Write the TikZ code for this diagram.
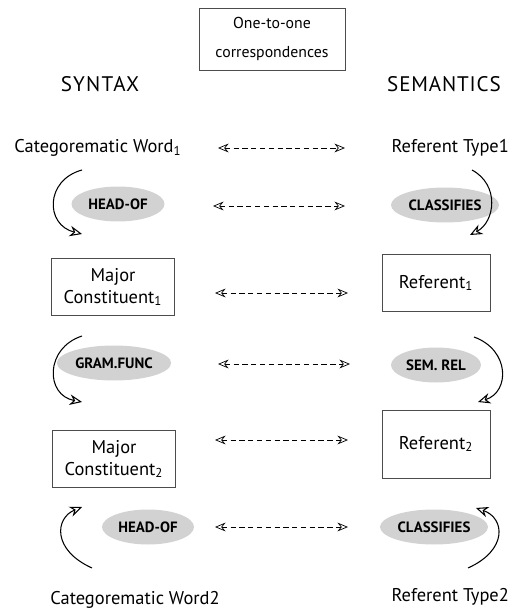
\documentclass[tikz,border=0pt]{standalone}
\usepackage{fontspec}
\setmainfont{PT Sans}
\usetikzlibrary{arrows.meta,shapes.geometric}

\begin{document}
\begin{tikzpicture}[x=0.02cm, y=-0.02cm, every node/.style={font=\fontsize{10.5}{12.5}\selectfont}]
\tikzset{blob/.style={ellipse, fill=gray!35, inner sep=1pt, minimum height=0.7cm, font=\fontsize{8.5}{10}\selectfont\bfseries}}
\tikzset{unit/.style={draw=black!70, thin, align=center, minimum height=1.15cm}}
\tikzset{corr/.style={densely dashed, thin, {Stealth[open,length=6pt,width=5pt]}-{Stealth[open,length=6pt,width=5pt]}}}
\tikzset{link/.style={semithick, -{Stealth[open,length=7pt,width=6pt]}}}
\useasboundingbox (0,0) rectangle (511,615);
% headings
\node[draw=black!70, thin, align=center, minimum width=2.92cm, minimum height=1.24cm, font=\fontsize{9}{17}\selectfont] (one) at (272,39) {One-to-one\\correspondences};
\node[font=\fontsize{12}{14}\selectfont\addfontfeature{LetterSpace=6}] (syn) at (100,84) {SYNTAX};
\node[font=\fontsize{12}{14}\selectfont\addfontfeature{LetterSpace=4}] (sem) at (444,84) {SEMANTICS};
% syntax column
\node (cw1) at (98,148) {Categorematic Word\textsubscript{1}};
\node[blob, minimum width=1.86cm] (hd1) at (118,204) {HEAD-OF};
\node[unit, minimum width=2.46cm] (mc1) at (113,287) {Major\\Constituent\textsubscript{1}};
\node[blob, minimum width=2.16cm] (gf) at (114,363) {GRAM.FUNC};
\node[unit, minimum width=2.46cm] (mc2) at (114,459) {Major\\Constituent\textsubscript{2}};
\node[blob, minimum width=1.84cm] (hd2) at (148,527) {HEAD-OF};
\node (cw2) at (135,600) {Categorematic Word2};
% semantics column
\node[anchor=east, inner xsep=1pt] (rt1) at (511,148) {Referent Type1};
\node[blob, minimum width=1.8cm] (cl1) at (445,205) {CLASSIFIES};
\node[unit, minimum width=2.16cm] (rf1) at (436,283) {Referent\textsubscript{1}};
\node[blob, minimum width=1.8cm] (sr) at (436,365) {SEM. REL};
\node[unit, minimum width=2.16cm, minimum height=1.36cm] (rf2) at (436,444) {Referent\textsubscript{2}};
\node[blob, minimum width=1.9cm] (cl2) at (434,527) {CLASSIFIES};
\node[anchor=east, inner xsep=1pt] (rt2) at (511,597) {Referent Type2};
% correspondences
\foreach \n/\y/\a/\b in {1/148/218/345, 2/206/213/345, 3/293/215/348, 4/364/218/350, 5/440/215/348, 6/527/215/348} {
  \coordinate (c\n l) at (\a,\y);
  \coordinate (c\n r) at (\b,\y);
  \draw[corr] (c\n l) -- (c\n r);
}
% curved links
\coordinate (l1s) at (82,170); \coordinate (l1e) at (82,234);
\coordinate (l2s) at (82,336); \coordinate (l2e) at (82,402);
\coordinate (l3s) at (92,568); \coordinate (l3e) at (82,507);
\coordinate (r1s) at (472,170); \coordinate (r1e) at (470,235);
\coordinate (r2s) at (474,337); \coordinate (r2e) at (478,402);
\coordinate (r3s) at (468,568); \coordinate (r3e) at (476,508);
\draw[link] (l1s) .. controls (45,180) and (45,225) .. (l1e);
\draw[link] (l2s) .. controls (45,348) and (45,395) .. (l2e);
\draw[link] (l3s) .. controls (52,550) and (55,518) .. (l3e);
\draw[link] (r1s) .. controls (500,185) and (495,222) .. (r1e);
\draw[link] (r2s) .. controls (510,350) and (510,392) .. (r2e);
\draw[link] (r3s) .. controls (508,550) and (505,518) .. (r3e);
\end{tikzpicture}
\end{document}
